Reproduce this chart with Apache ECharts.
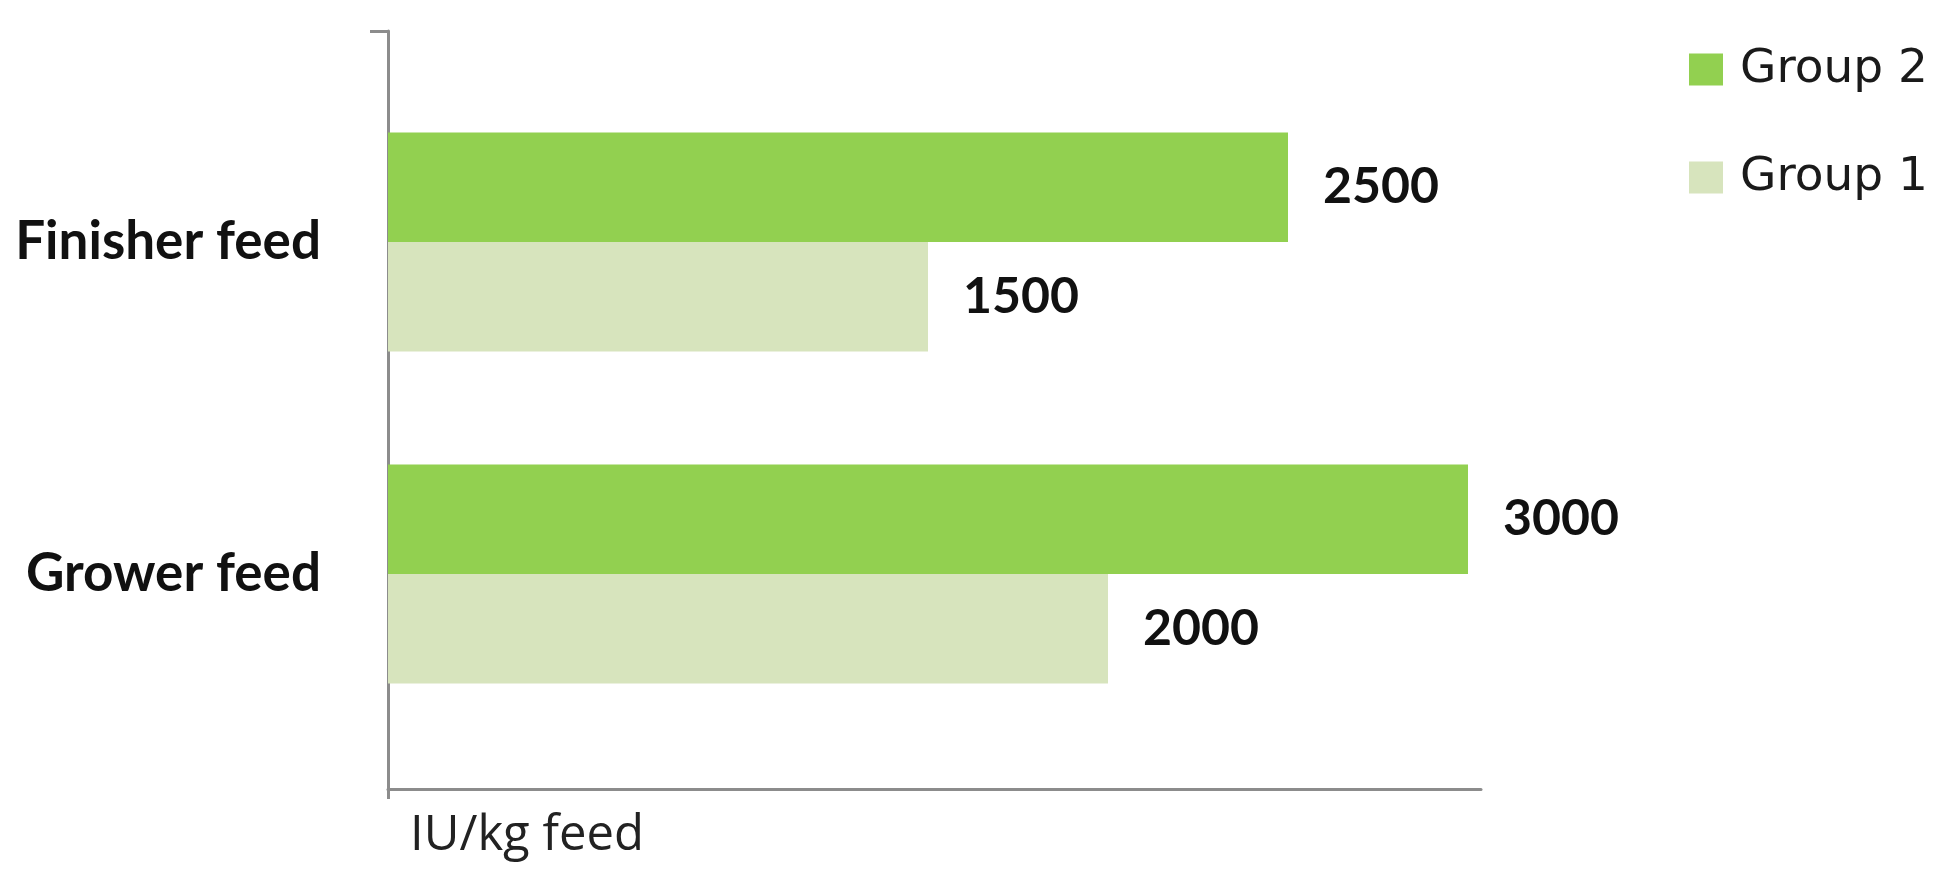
<!DOCTYPE html>
<html>
<head>
<meta charset="utf-8">
<script src="https://cdn.jsdelivr.net/npm/echarts@6/dist/echarts.min.js"></script>
<style>
html,body{margin:0;padding:0;background:#fff;}
#chart{width:1952px;height:896px;}
</style>
</head>
<body>
<div id="chart"></div>
<script>
const categories = ['Grower feed', 'Finisher feed'];
const group1 = [2000, 1500];
const group2 = [3000, 2500];
const seriesNames = ['Group 1', 'Group 2'];
const axisUnit = 'IU/kg feed';

const chart = echarts.init(document.getElementById('chart'));
const axisGray = '#8c8c8c';
const labelStyle = { show: true, position: 'right', distance: 35, fontFamily: 'Lato', fontWeight: 'bold', fontSize: 50, color: '#111' };
const option = {
  animation: false,
  backgroundColor: '#ffffff',
  title: {
    text: axisUnit,
    left: 410,
    top: 812,
    padding: 0,
    textStyle: { fontFamily: 'Open Sans', fontWeight: 'normal', fontSize: 49, lineHeight: 49, color: '#222' }
  },
  legend: {
    data: ['Group 2', 'Group 1'],
    orient: 'vertical',
    left: 1689,
    top: 46,
    padding: 0,
    itemWidth: 34,
    itemHeight: 32,
    itemGap: 61,
    icon: 'rect',
    textStyle: { fontFamily: 'DejaVu Sans', fontSize: 47, lineHeight: 45, color: '#1a1a1a', padding: [0, 0, 0, 12] }
  },
  grid: [
    { left: 388, right: 471, top: 31, bottom: 107, containLabel: false },
    { left: 388, right: 484, top: 76, bottom: 156, containLabel: false }
  ],
  xAxis: [
    {
      gridIndex: 0, type: 'value', min: 0, max: 1,
      axisLine: { show: true, lineStyle: { color: axisGray, width: 3 } },
      axisTick: { show: true, customValues: [0], length: 10, lineStyle: { color: axisGray, width: 3 } },
      axisLabel: { show: false }, splitLine: { show: false }
    },
    {
      gridIndex: 1, type: 'value', min: 0, max: 3000,
      axisLine: { show: false }, axisTick: { show: false },
      axisLabel: { show: false }, splitLine: { show: false }
    }
  ],
  yAxis: [
    {
      gridIndex: 0, type: 'value', min: 0, max: 1,
      axisLine: { show: true, lineStyle: { color: axisGray, width: 3 } },
      axisTick: { show: true, customValues: [1], length: 18, lineStyle: { color: axisGray, width: 3 } },
      axisLabel: { show: false }, splitLine: { show: false }
    },
    {
      gridIndex: 1, type: 'category', data: categories,
      axisLine: { show: false }, axisTick: { show: false },
      axisLabel: { margin: 67, fontFamily: 'Lato', fontWeight: 'bold', fontSize: 53, color: '#111' }
    }
  ],
  series: [
    {
      name: seriesNames[1], type: 'bar', xAxisIndex: 1, yAxisIndex: 1,
      data: group2, barGap: '0%', barCategoryGap: '34%',
      itemStyle: { color: '#92D050' },
      label: labelStyle
    },
    {
      name: seriesNames[0], type: 'bar', xAxisIndex: 1, yAxisIndex: 1,
      data: group1, barGap: '0%', barCategoryGap: '34%',
      itemStyle: { color: '#D7E4BD' },
      label: labelStyle
    }
  ]
};
chart.setOption(option);
</script>
</body>
</html>
